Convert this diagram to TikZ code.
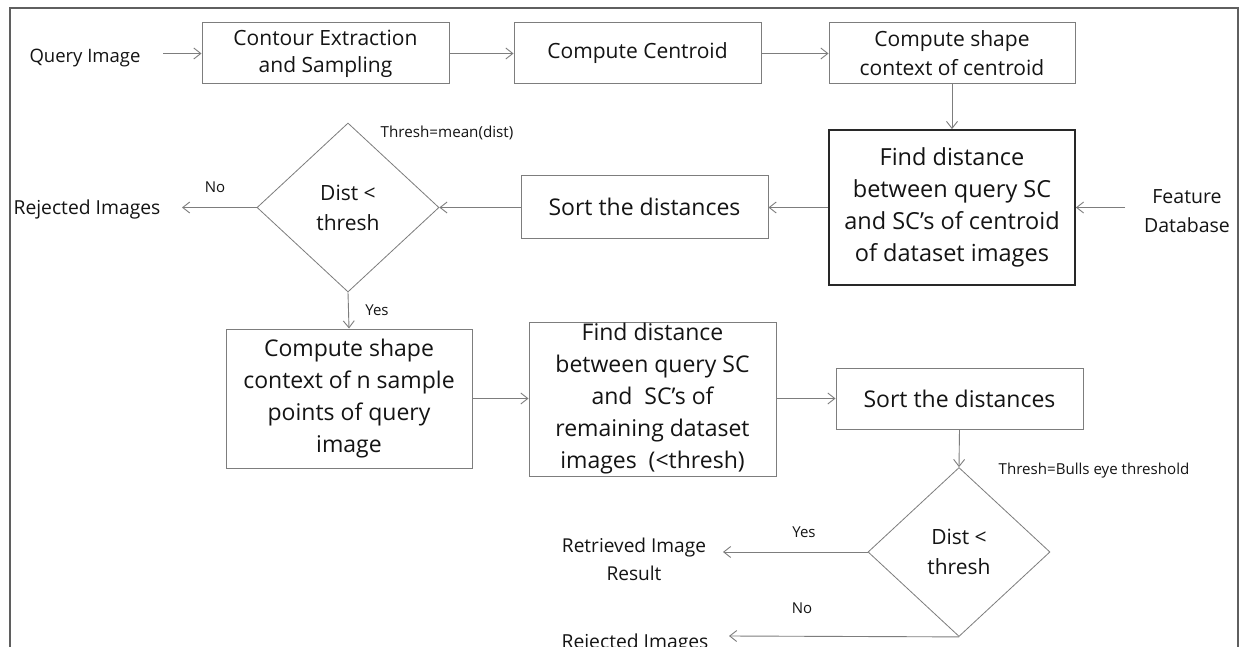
\documentclass[tikz,border=0pt]{standalone}
\usepackage{fontspec}
\setmainfont{Open Sans}
\usetikzlibrary{shapes.geometric,arrows.meta}
\definecolor{boxc}{RGB}{125,125,125}
\definecolor{arrc}{RGB}{125,125,125}
\definecolor{framec}{RGB}{95,95,95}
\definecolor{darkb}{RGB}{40,40,40}
\definecolor{txt}{RGB}{20,20,20}
\newcommand\fsz[2]{\fontsize{#1}{#2}\selectfont}
\tikzset{
  procbox/.style={draw=boxc, line width=1pt, fill=white, align=center, inner sep=0pt, text=txt},
  decbox/.style={draw=boxc, line width=0.8pt, shape=diamond, inner sep=0pt, align=center, text=txt,
     minimum width=182pt, minimum height=169pt, font=\fsz{21}{30}},
  lbl/.style={inner sep=0pt, align=center, text=txt},
  arr/.style={draw=arrc, line width=0.9pt, -{Straight Barb[length=7pt,width=11pt]}},
}
\begin{document}
\begin{tikzpicture}[x=1pt,y=-1pt]
\useasboundingbox (0,0) rectangle (1242,647);
\clip (0,0) rectangle (1242,647);
\fill[white] (0,0) rectangle (1242,647);
% frame
\draw[framec, line width=1.5pt] (10,660) -- (10,8) -- (1238,8) -- (1238,660);

% top row
\node[procbox, minimum width=247pt, minimum height=61pt, font=\fsz{21}{27}] (contour) at (325.5,53.5) {Contour Extraction\\and Sampling};
\node[procbox, minimum width=247pt, minimum height=61pt, font=\fsz{21}{27}] (centroid) at (637.5,53.5) {Compute Centroid};
\node[procbox, minimum width=246pt, minimum height=61pt, font=\fsz{21}{29}] (shapec) at (952,53.5) {Compute shape\\context of centroid};

% second row
\node[procbox, draw=darkb, line width=1.8pt, minimum width=246pt, minimum height=155pt, font=\fsz{23.5}{32}] (find1) at (952,207.5) {Find distance\\between query SC\\and SC’s of centroid\\of dataset images};
\node[procbox, minimum width=247pt, minimum height=62pt, font=\fsz{23}{30}] (sort1) at (644.5,207) {Sort the distances};
\node[decbox] (dia1) at (348,207.5) {Dist <\\thresh};

% third row
\node[procbox, minimum width=246pt, minimum height=139pt, font=\fsz{23}{32}] (box3) at (349,398.5) {Compute shape\\context of n sample\\points of query\\image};
\node[procbox, minimum width=247pt, minimum height=154pt, font=\fsz{23}{32}] (box2) at (652.5,399) {Find distance\\between query SC\\and\ \ SC’s of\\remaining dataset\\images\ \ (<thresh)};
\node[procbox, minimum width=247pt, minimum height=61pt, font=\fsz{23}{30}] (sort2) at (959.5,398.5) {Sort the distances};
\node[decbox] (dia2) at (959,552) {Dist <\\thresh};

% labels
\node[lbl, font=\fsz{18.5}{24}] (query) at (85,58) {Query Image};
\node[lbl, font=\fsz{19.5}{29}] (feature) at (1187,211) {Feature\\Database};
\node[lbl, font=\fsz{19.3}{24}] (rej1) at (87,209) {Rejected Images};
\node[lbl, font=\fsz{15}{18}] (no1) at (215,187) {No};
\node[lbl, font=\fsz{15.2}{18}] (thr1) at (447,133) {Thresh=mean(dist)};
\node[lbl, font=\fsz{15}{18}] (yes1) at (377,310) {Yes};
\node[lbl, font=\fsz{15.1}{18}] (thr2) at (1094,471) {Thresh=Bulls eye threshold};
\node[lbl, font=\fsz{15}{18}] (yes2) at (804,532) {Yes};
\node[lbl, font=\fsz{19.1}{28}] (retr) at (634,559) {Retrieved Image\\Result};
\node[lbl, font=\fsz{15}{18}] (no2) at (802,608) {No};
\node[lbl, font=\fsz{19.3}{24}, anchor=base] (rej2) at (635,648) {Rejected Images};

% free ends
\coordinate (qa) at (163,53.5);
\coordinate (fa) at (1125,207.5);
\coordinate (r1a) at (182,207.5);
\coordinate (r2a) at (723,552);
\coordinate (r3a) at (729,636);

% connectors
\draw[arr] (qa) -- (contour.west);
\draw[arr] (contour.east) -- (centroid.west);
\draw[arr] (centroid.east) -- (shapec.west);
\draw[arr] (shapec.south) -- (find1.north);
\draw[arr] (fa) -- (find1.east);
\draw[arr] (find1.west) -- (sort1.east |- find1.west);
\draw[arr] (sort1.west |- dia1.east) -- (dia1.east);
\draw[arr] (dia1.west) -- (r1a);
\draw[arr] (dia1.south) -- (box3.north);
\draw[arr] (box3.east) -- (box2.west |- box3.east);
\draw[arr] (box2.east |- sort2.west) -- (sort2.west);
\draw[arr] (sort2.south) -- (dia2.north);
\draw[arr] (dia2.west) -- (r2a);
\draw[arr] (dia2.south) -- (r3a);
\end{tikzpicture}
\end{document}
